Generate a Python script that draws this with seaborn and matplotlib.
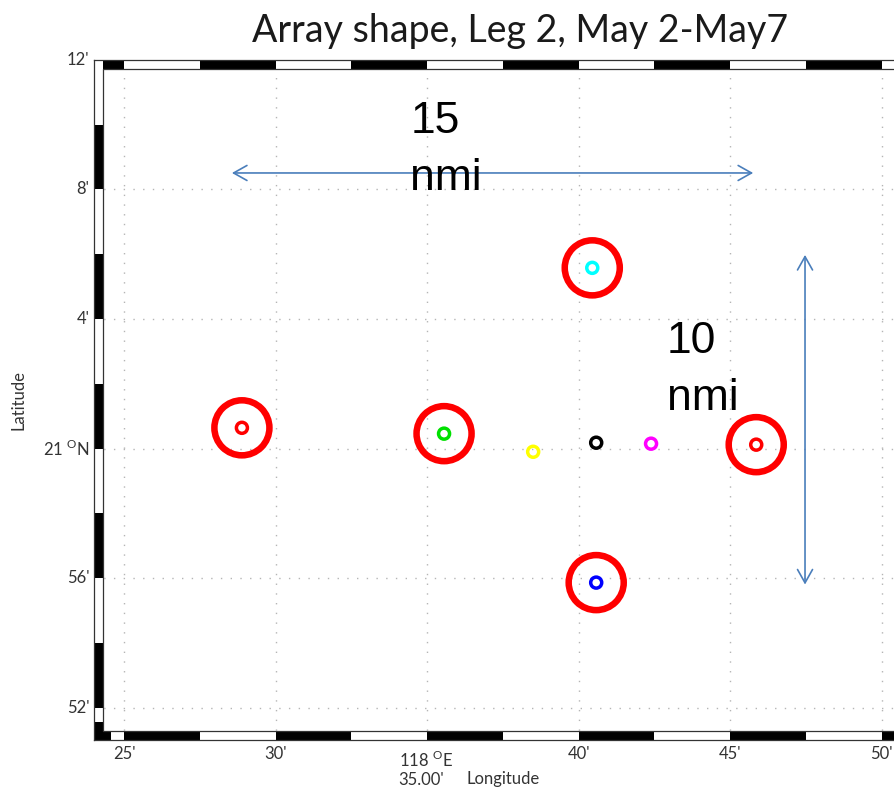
import numpy as np
import pandas as pd
import matplotlib
matplotlib.use("Agg")
import matplotlib.pyplot as plt
import matplotlib.transforms as mtransforms
from matplotlib.patches import Rectangle
from matplotlib.font_manager import FontProperties
import seaborn as sns

# Buoy positions, arc-minutes east of 118°E and north of 21°N
buoy_names = ["W", "CW", "S-C", "C", "CE", "E", "N", "S"]
buoy_lon = [28.89, 35.56, 38.50, 40.58, 42.39, 45.86, 40.45, 40.58]
buoy_lat = [0.64, 0.46, -0.10, 0.18, 0.15, 0.12, 5.58, -4.14]
buoy_colors = ["#ff0000", "#00e000", "#ffff00", "#000000",
               "#ff00ff", "#ff0000", "#00ffff", "#0000ff"]
ringed = [True, True, False, False, False, True, True, True]

# Map frame ticks
lon_ticks = [25, 30, 35, 40, 45, 50]
lon_labels = ["25'", "30'", "", "40'", "45'", "50'"]
lat_ticks = [-8, -4, 0, 4, 8, 12]
lat_labels = ["52'", "56'", r"21 $^{\mathrm{O}}$N", "4'", "8'", "12'"]

# Array extent markers
span_ew_lon = [28.56, 45.76]
span_ew_lat = 8.51
span_ns_lat = [5.98, -4.20]
span_ns_lon = 47.47
span_labels = ["15\nnmi", "10\nnmi"]

sns.set_style("white")
plt.rcParams["font.family"] = ["Lato", "DejaVu Sans"]
plt.rcParams["mathtext.fontset"] = "custom"
plt.rcParams["mathtext.rm"] = "Lato"

W, H = 895, 791
fig = plt.figure(figsize=(W / 100, H / 100), dpi=100)
ax = fig.add_axes([0.1047, 0.0645, 0.9143, 0.8597])

LON0, LON1, LAT0, LAT1 = 24.0, 51.0, -9.0, 12.0
ax.set_xlim(LON0, LON1)
ax.set_ylim(LAT0, LAT1)

# dotted graticule
ax.set_xticks(lon_ticks)
ax.set_yticks(lat_ticks)
ax.grid(True, color="#b5b5b5", linestyle=(0, (1, 6)), linewidth=1.0, zorder=0)
ax.set_axisbelow(True)
ax.tick_params(length=0, labelsize=12, labelcolor="#333333")
ax.tick_params(axis="x", pad=4)
ax.tick_params(axis="y", pad=3)
ax.set_xticklabels(lon_labels)
ax.set_yticklabels(lat_labels)
for lbl in ax.get_yticklabels():
    lbl.set_verticalalignment("center")

# two-tone "fancy" frame band
bx, by = 0.297, 0.278
def band(x0, x1, y0, y1, color):
    ax.add_patch(Rectangle((x0, y0), x1 - x0, y1 - y0, facecolor=color,
                           edgecolor="none", zorder=3, clip_on=False))

for k in range(-2, 14):
    a, b = 22.5 + 2.5 * k, 25.0 + 2.5 * k
    a, b = max(a, LON0 + bx), min(b, LON1)
    if a >= b:
        continue
    top_black = (k % 2 == 0)
    band(a, b, LAT1 - by, LAT1, "black" if top_black else "white")
    band(a, b, LAT0, LAT0 + by, "white" if top_black else "black")
for k in range(-6, 8):
    a, b = 2.0 * k, 2.0 * k + 2.0
    a, b = max(a, LAT0), min(b, LAT1)
    if a >= b:
        continue
    band(LON0, LON0 + bx, a, b, "black" if k % 2 == 0 else "white")
band(LON0, LON0 + 0.56, LAT0, LAT0 + by, "black")
band(LON0, LON0 + bx, LAT0, LAT0 + 0.55, "black")

for s in ax.spines.values():
    s.set_color("#333333")
    s.set_linewidth(0.9)
    s.set_zorder(4)
ax.plot([LON0 + bx, LON1], [LAT1 - by] * 2, color="#333333", lw=0.9, zorder=4)
ax.plot([LON0 + bx, LON1], [LAT0 + by] * 2, color="#333333", lw=0.9, zorder=4)
ax.plot([LON0 + bx] * 2, [LAT0 + by, LAT1 - by], color="#333333", lw=0.9, zorder=4)

# buoys
df = pd.DataFrame({"lon": buoy_lon, "lat": buoy_lat, "buoy": buoy_names,
                   "ringed": ringed})
palette = dict(zip(buoy_names, buoy_colors))

sns.scatterplot(data=df[df["ringed"]], x="lon", y="lat", ax=ax, s=1570,
                color="red", edgecolor="red", linewidth=4.7, legend=False,
                zorder=5)
rings = ax.collections[-1]
rings.set_facecolor("none")

sns.scatterplot(data=df, x="lon", y="lat", hue="buoy", palette=palette, ax=ax,
                s=63, linewidth=2.5, legend=False, zorder=6)
pts = ax.collections[-1]
pts.set_edgecolors(pts.get_facecolors())
pts.set_facecolors("none")

# extent arrows and labels
arrow_kw = dict(arrowstyle="<->,head_length=0.8,head_width=0.45",
                color="#4a7ebb", lw=1.2, mutation_scale=12,
                shrinkA=0, shrinkB=0)
ax.annotate("", xy=(span_ew_lon[1], span_ew_lat),
            xytext=(span_ew_lon[0], span_ew_lat), arrowprops=arrow_kw, zorder=7)
ax.annotate("", xy=(span_ns_lon, span_ns_lat[1]),
            xytext=(span_ns_lon, span_ns_lat[0]), arrowprops=arrow_kw, zorder=7)
arial = FontProperties(family="Liberation Sans", size=32)
ax.text(34.45, 7.99, span_labels[0], fontproperties=arial, color="black",
        va="baseline", ha="left", linespacing=1.49, zorder=8)
ax.text(42.9, 1.20, span_labels[1], fontproperties=arial, color="black",
        va="baseline", ha="left", linespacing=1.49, zorder=8)

# axis labels
ax.set_xlabel("Longitude", fontsize=12, color="#333333", labelpad=7)
ax.set_ylabel("Latitude", fontsize=12, color="#333333", labelpad=12)
trans = mtransforms.blended_transform_factory(ax.transData, fig.transFigure)
ax.text(34.95, 1 - 760 / H, r"118 $^{\mathrm{O}}$E", transform=trans,
        ha="center", va="center", fontsize=12, color="#333333")
ax.text(34.8, 1 - 780 / H, "35.00'", transform=trans,
        ha="center", va="center", fontsize=12, color="#333333")

fig.text(520 / W, 1 - 42 / H, "Array shape, Leg 2, May 2-May7",
         ha="center", va="baseline", fontsize=27, color="#1a1a1a")

fig.savefig("out.png", dpi=100)
